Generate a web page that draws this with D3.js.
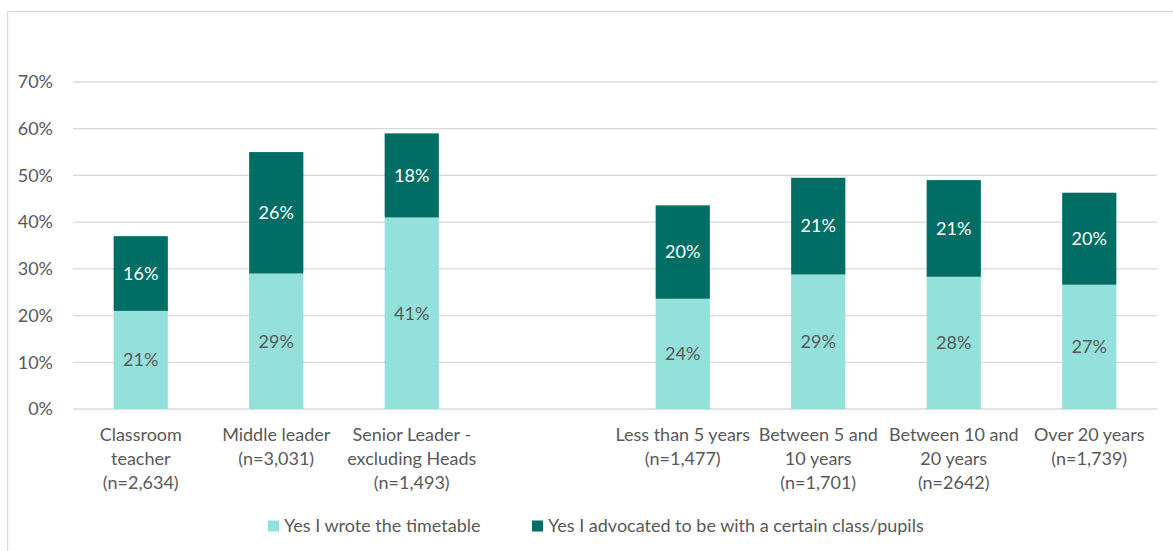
<!DOCTYPE html>
<html lang="en">
  <head>
    <meta charset="utf-8">
    <title>Timetable chart</title>
    <script src="https://cdnjs.cloudflare.com/ajax/libs/d3/7.8.5/d3.min.js"></script>
    <style>
      body { margin: 0; background: #fff; }
      text { font-family: Lato, "Open Sans", sans-serif; fill: #595959; font-size: 18px; }
      .grid line { stroke: #d9d9d9; stroke-width: 1.3; }
    </style>
  </head>
  <body>
    <svg width="1173" height="551"></svg>
    <script>
    // data (percent)
    var categories = [
      "Classroom\nteacher\n(n=2,634)",
      "Middle leader\n(n=3,031)",
      "Senior Leader -\nexcluding Heads\n(n=1,493)",
      "",
      "Less than 5 years\n(n=1,477)",
      "Between 5 and\n10 years\n(n=1,701)",
      "Between 10 and\n20 years\n(n=2642)",
      "Over 20 years\n(n=1,739)"
    ];
    var wroteTimetable = [21, 29, 41, null, 23.6, 28.8, 28.3, 26.6];
    var advocated      = [16, 26, 18, null, 20.0, 20.7, 20.7, 19.7];
    var seriesNames = ["Yes I wrote the timetable", "Yes I advocated to be with a certain class/pupils"];
    var yTicks = [0, 10, 20, 30, 40, 50, 60, 70];

    var colors = ["#93e1da", "#006e64"];

    var svg = d3.select("svg");

    // chart frame
    svg.append("rect")
        .attr("x", 7.5).attr("y", 11.5)
        .attr("width", 1200).attr("height", 600)
        .attr("fill", "none")
        .attr("stroke", "#d9d9d9")
        .attr("stroke-width", 1.3);

    var plotLeft = 73, plotRight = 1157, plotTop = 82, plotBottom = 409;

    var x = d3.scaleBand()
        .domain(d3.range(categories.length))
        .range([plotLeft, plotRight])
        .paddingInner(0.6)
        .paddingOuter(0.3);

    var y = d3.scaleLinear().domain([0, 70]).range([plotBottom, plotTop]);

    // gridlines
    svg.append("g").attr("class", "grid")
      .selectAll("line")
      .data(yTicks)
      .enter().append("line")
        .attr("x1", plotLeft).attr("x2", plotRight)
        .attr("y1", function(d) { return y(d); })
        .attr("y2", function(d) { return y(d); });

    // y axis labels
    svg.append("g")
      .selectAll("text")
      .data(yTicks)
      .enter().append("text")
        .attr("x", 53)
        .attr("y", function(d) { return y(d); })
        .attr("dy", "0.35em")
        .attr("text-anchor", "end")
        .text(function(d) { return d + "%"; });

    // stacked rows
    var rows = categories.map(function(c, i) {
      return { i: i, a: wroteTimetable[i], b: advocated[i] };
    }).filter(function(d) { return d.a != null; });

    var bars = svg.append("g");

    bars.selectAll(".bar-a")
      .data(rows)
      .enter().append("rect")
        .attr("class", "bar-a")
        .attr("x", function(d) { return x(d.i); })
        .attr("width", x.bandwidth())
        .attr("y", function(d) { return y(d.a); })
        .attr("height", function(d) { return y(0) - y(d.a); })
        .attr("fill", colors[0]);

    bars.selectAll(".bar-b")
      .data(rows)
      .enter().append("rect")
        .attr("class", "bar-b")
        .attr("x", function(d) { return x(d.i); })
        .attr("width", x.bandwidth())
        .attr("y", function(d) { return y(d.a + d.b); })
        .attr("height", function(d) { return y(d.a) - y(d.a + d.b); })
        .attr("fill", colors[1]);

    // value labels
    bars.selectAll(".lab-a")
      .data(rows)
      .enter().append("text")
        .attr("x", function(d) { return x(d.i) + x.bandwidth() / 2; })
        .attr("y", function(d) { return y(d.a / 2); })
        .attr("dy", "0.35em")
        .attr("text-anchor", "middle")
        .text(function(d) { return Math.round(d.a) + "%"; });

    bars.selectAll(".lab-b")
      .data(rows)
      .enter().append("text")
        .attr("x", function(d) { return x(d.i) + x.bandwidth() / 2; })
        .attr("y", function(d) { return y(d.a + d.b / 2); })
        .attr("dy", "0.35em")
        .attr("text-anchor", "middle")
        .style("fill", "#ffffff")
        .text(function(d) { return Math.round(d.b) + "%"; });

    // category labels
    var cat = svg.append("g")
      .selectAll("text")
      .data(categories)
      .enter().append("text")
        .attr("text-anchor", "middle")
        .attr("transform", function(d, i) {
          return "translate(" + (x(i) + x.bandwidth() / 2) + ",435)";
        });

    cat.selectAll("tspan")
      .data(function(d) { return d ? d.split("\n") : []; })
      .enter().append("tspan")
        .attr("x", 0)
        .attr("y", function(d, j) { return j * 24; })
        .attr("dy", "0.35em")
        .text(function(d) { return d; });

    // legend
    var legendX = [268, 532];
    var legend = svg.append("g")
      .selectAll("g")
      .data(seriesNames)
      .enter().append("g")
        .attr("transform", function(d, i) { return "translate(" + legendX[i] + ",526)"; });

    legend.append("rect")
        .attr("x", 0).attr("y", -5.5)
        .attr("width", 11).attr("height", 11)
        .attr("fill", function(d, i) { return colors[i]; });

    legend.append("text")
        .attr("x", 16)
        .attr("dy", "0.35em")
        .text(function(d) { return d; });
    </script>
  </body>
</html>
